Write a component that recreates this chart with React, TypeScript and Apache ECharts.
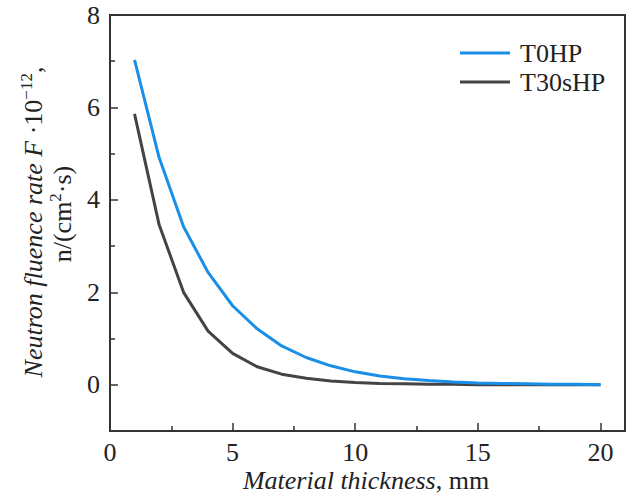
import React, { useEffect, useRef } from "react";
import * as echarts from "echarts";

const thickness = [1, 2, 3, 4, 5, 6, 7, 8, 9, 10, 11, 12, 13, 14, 15, 16, 17, 18, 19, 20];
const t0hp = [7.03, 4.92, 3.42, 2.43, 1.71, 1.21, 0.84, 0.59, 0.41, 0.28, 0.19, 0.13, 0.09, 0.06, 0.04, 0.03, 0.02, 0.01, 0.01, 0.0];
const t30shp = [5.86, 3.47, 2.0, 1.16, 0.68, 0.39, 0.23, 0.14, 0.08, 0.05, 0.03, 0.02, 0.01, 0.01, 0.0, 0.0, 0.0, 0.0, 0.0, 0.0];

const xTicks = [0, 5, 10, 15, 20];
const xMinorTicks = [2.5, 7.5, 12.5, 17.5];
const yTicks = [0, 2, 4, 6, 8];
const yMinorTicks = [1, 3, 5, 7];

const FONT = "'Liberation Serif', 'Times New Roman', serif";
const INK = "#222";
const AXIS = "#333";

export default function App() {
  const ref = useRef<HTMLDivElement>(null);
  useEffect(() => {
    if (!ref.current) return;
    const chart = echarts.init(ref.current, null, { renderer: "svg" });
    const pairs = (ys: number[]) => thickness.map((x, i) => [x, ys[i]]);
    const axisLine = { show: true, onZero: false, lineStyle: { color: AXIS, width: 2 } };
    const tickStyle = { color: AXIS, width: 1.5 };
    chart.setOption({
      animation: false,
      grid: { left: 110, right: 1, top: 15, bottom: 66, show: true, borderColor: AXIS, borderWidth: 2 },
      xAxis: [
        {
          type: "value", min: 0, max: 21, position: "bottom",
          axisLine,
          axisTick: { inside: true, length: 8, customValues: xTicks, lineStyle: tickStyle },
          axisLabel: { customValues: xTicks, fontSize: 26, fontFamily: FONT, color: INK, margin: 8 },
          splitLine: { show: false },
        },
        {
          type: "value", min: 0, max: 21, position: "bottom",
          axisLine: { show: false, onZero: false },
          axisTick: { inside: true, length: 5, customValues: xMinorTicks, lineStyle: tickStyle },
          axisLabel: { show: false },
          splitLine: { show: false },
        },
      ],
      yAxis: [
        {
          type: "value", min: -1, max: 8, position: "left",
          axisLine,
          axisTick: { inside: true, length: 8, customValues: yTicks, lineStyle: tickStyle },
          axisLabel: { customValues: yTicks, fontSize: 26, fontFamily: FONT, color: INK, margin: 10 },
          splitLine: { show: false },
        },
        {
          type: "value", min: -1, max: 8, position: "left",
          axisLine: { show: false, onZero: false },
          axisTick: { inside: true, length: 5, customValues: yMinorTicks, lineStyle: tickStyle },
          axisLabel: { show: false },
          splitLine: { show: false },
        },
      ],
      legend: {
        left: 460, top: 40, orient: "vertical", padding: 0,
        icon: "rect", itemWidth: 50, itemHeight: 3, itemGap: 3,
        textStyle: { fontSize: 26, fontFamily: FONT, color: INK, padding: [0, 0, 0, 5], lineHeight: 26 },
        data: ["T0HP", "T30sHP"],
      },
      series: [
        {
          name: "T30sHP", type: "line", data: pairs(t30shp), symbol: "none",
          lineStyle: { color: "#444444", width: 3 }, itemStyle: { color: "#444444" },
        },
        {
          name: "T0HP", type: "line", data: pairs(t0hp), symbol: "none",
          lineStyle: { color: "#1a8fe8", width: 3 }, itemStyle: { color: "#1a8fe8" },
        },
      ],
      graphic: [
        {
          type: "text", x: 366, y: 480,
          style: {
            text: "{i|Material thickness}{r|, mm}",
            align: "center", verticalAlign: "middle",
            rich: {
              i: { fontStyle: "italic", fontSize: 26, fontFamily: FONT, fill: INK },
              r: { fontSize: 26, fontFamily: FONT, fill: INK },
            },
          },
        },
        {
          type: "text", x: 33, y: 222, rotation: Math.PI / 2,
          style: {
            text: "{i|Neutron fluence rate F}{r| ·10}{s|−12}{r|,}",
            align: "center", verticalAlign: "middle",
            rich: {
              i: { fontStyle: "italic", fontSize: 26, fontFamily: FONT, fill: INK },
              r: { fontSize: 26, fontFamily: FONT, fill: INK },
              s: { fontSize: 17, fontFamily: FONT, fill: INK, padding: [0, 0, 14, 0] },
            },
          },
        },
        {
          type: "text", x: 62, y: 214, rotation: Math.PI / 2,
          style: {
            text: "{r|n/(cm}{s|2}{r|·s)}",
            align: "center", verticalAlign: "middle",
            rich: {
              r: { fontSize: 26, fontFamily: FONT, fill: INK },
              s: { fontSize: 17, fontFamily: FONT, fill: INK, padding: [0, 0, 14, 0] },
            },
          },
        },
      ],
    });
    return () => chart.dispose();
  }, []);
  return (
    <div
      ref={ref}
      style={{ position: "absolute", left: 0, top: 0, width: 626, height: 497 }}
    />
  );
}
